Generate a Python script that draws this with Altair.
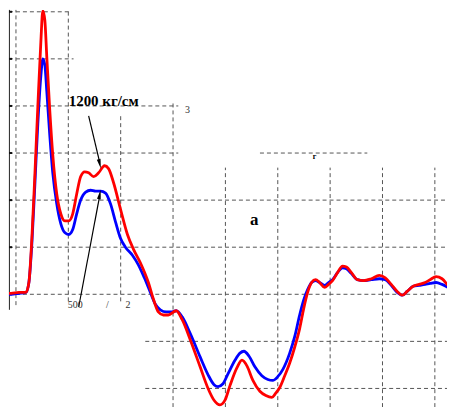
import altair as alt
import pandas as pd

# ---- curve data (x: grid cells from first vertical grid line, y: grid cells from baseline) ----
red_x = [-0.228, -0.095, 0.057, 0.19, 0.247, 0.304, 0.361, 0.418, 0.475, 0.513, 0.551, 0.589, 0.646,
         0.703, 0.779, 0.856, 0.932, 1.008, 1.084, 1.16, 1.236, 1.312, 1.388, 1.483, 1.578, 1.692,
         1.768, 1.863, 1.996, 2.129, 2.243, 2.376, 2.529, 2.624, 2.719, 2.814, 2.909, 3.061, 3.175,
         3.327, 3.517, 3.669, 3.783, 3.897, 3.992, 4.087, 4.221, 4.316, 4.411, 4.525, 4.658, 4.772,
         4.886, 4.962, 5.038, 5.133, 5.228, 5.323, 5.418, 5.494, 5.57, 5.646, 5.722, 5.798, 5.894,
         5.97, 6.046, 6.141, 6.236, 6.312, 6.407, 6.521, 6.635, 6.787, 6.939, 7.053, 7.167, 7.281,
         7.376, 7.471, 7.586, 7.7, 7.814, 7.909, 8.023, 8.137, 8.251, 8.365]
red_y = [0.02, 0.02, 0.04, 0.04, 0.25, 1.19, 2.54, 4.0, 5.35, 6.02, 5.83, 5.04, 3.9,
         2.96, 2.13, 1.71, 1.56, 1.56, 1.71, 2.13, 2.5, 2.6, 2.58, 2.5, 2.58, 2.73,
         2.67, 2.375, 1.81, 1.27, 0.96, 0.67, 0.25, -0.1, -0.375, -0.44, -0.44, -0.35, -0.54,
         -0.96, -1.54, -2.0, -2.25, -2.35, -2.25, -1.94, -1.56, -1.4, -1.52, -1.83, -2.06, -2.15,
         -2.19, -2.1, -1.98, -1.73, -1.46, -1.125, -0.73, -0.31, 0.04, 0.25, 0.31, 0.25, 0.146,
         0.21, 0.29, 0.46, 0.6, 0.58, 0.46, 0.31, 0.29, 0.33, 0.4, 0.35, 0.21, 0.06,
         -0.02, 0.06, 0.17, 0.21, 0.25, 0.31, 0.375, 0.33, 0.19, 0.06]

blue_x = [-0.228, -0.095, 0.057, 0.19, 0.247, 0.304, 0.361, 0.418, 0.475, 0.513, 0.551, 0.589, 0.646,
          0.703, 0.779, 0.856, 0.932, 1.008, 1.084, 1.16, 1.236, 1.331, 1.426, 1.521, 1.616, 1.711,
          1.806, 1.901, 1.996, 2.091, 2.224, 2.338, 2.452, 2.567, 2.662, 2.757, 2.871, 2.966, 3.061,
          3.175, 3.327, 3.517, 3.669, 3.783, 3.859, 3.954, 4.049, 4.183, 4.278, 4.354, 4.449, 4.563,
          4.696, 4.81, 4.905, 5.0, 5.095, 5.228, 5.323, 5.418, 5.494, 5.57, 5.646, 5.722, 5.798,
          5.894, 5.97, 6.046, 6.141, 6.236, 6.312, 6.407, 6.521, 6.635, 6.787, 6.939, 7.053, 7.167,
          7.281, 7.376, 7.471, 7.586, 7.7, 7.814, 7.909, 8.023, 8.137, 8.251, 8.365]
blue_y = [0.0, 0.0, 0.02, 0.04, 0.25, 1.08, 2.33, 3.63, 4.63, 5.0, 4.875, 4.31, 3.375,
          2.58, 1.92, 1.5, 1.31, 1.27, 1.375, 1.71, 2.0, 2.17, 2.21, 2.19, 2.19, 2.15,
          1.92, 1.54, 1.19, 1.0, 0.83, 0.625, 0.35, 0.04, -0.21, -0.33, -0.375, -0.375, -0.35,
          -0.48, -0.83, -1.33, -1.71, -1.92, -1.96, -1.9, -1.69, -1.4, -1.25, -1.21, -1.31, -1.54,
          -1.73, -1.81, -1.83, -1.75, -1.6, -1.25, -0.9, -0.44, -0.125, 0.1, 0.25, 0.29, 0.25,
          0.19, 0.25, 0.31, 0.46, 0.56, 0.54, 0.44, 0.31, 0.29, 0.31, 0.33, 0.31, 0.19,
          0.04, -0.02, 0.06, 0.17, 0.19, 0.21, 0.23, 0.25, 0.21, 0.146, 0.06]

# ---- dashed grid segments ----
hgrid_y = [6, 5, 4, 3, 3, 2, 1, 0, -1, -2]
hgrid_x1 = [-0.133, -0.133, -0.133, -0.133, 4.66, -0.133, -0.133, -0.133, 2.47, 2.47]
hgrid_x2 = [1.05, 1.1, 3.1, 3.1, 6.71, 8.232, 8.232, 8.232, 8.232, 8.232]
vgrid_x = [0, 1, 2, 3, 4, 5, 6, 7, 8]
vgrid_y1 = [-0.23, -0.15, -0.15, -2.396, -2.396, -2.396, -2.396, -2.396, -2.396]
vgrid_y2 = [6.04, 6.04, 3.83, 4.1, 2.69, 2.69, 2.69, 2.69, 2.69]

# ---- left axis ----
axis_x = [-0.125]
axis_y1 = [-0.33]
axis_y2 = [6.04]
tick_y = [6, 5, 4, 3, 2, 1, 0]

# ---- annotations ----
bold_text = ["1200 кг/см", "а", "г"]
bold_x = [1.008, 4.47, 5.67]
bold_y = [4.0, 1.48, 2.88]
bold_size = [15, 17, 8]

small_text = ["3", "2", "500", "/"]
small_x = [3.23, 2.09, 0.99, 1.72]
small_y = [3.85, -0.29, -0.3, -0.3]

arrow_x1 = [1.388, 1.198]
arrow_y1 = [3.79, -0.27]
arrow_x2 = [1.597, 1.597]
arrow_y2 = [2.81, 2.08]
head_x = [1.6, 1.6]
head_y = [2.77, 2.12]
head_angle = [167, 11]

XD = [-0.133, 8.232]
YD = [-2.396, 6.04]
xs = alt.Scale(domain=XD, nice=False, zero=False)
ys = alt.Scale(domain=YD, nice=False, zero=False)

red_df = pd.DataFrame({"x": red_x, "y": red_y})
blue_df = pd.DataFrame({"x": blue_x, "y": blue_y})
hg = pd.DataFrame({"y": hgrid_y, "x1": hgrid_x1, "x2": hgrid_x2})
vg = pd.DataFrame({"x": vgrid_x, "y1": vgrid_y1, "y2": vgrid_y2})
ax_df = pd.DataFrame({"x": axis_x, "y1": axis_y1, "y2": axis_y2})
tk_df = pd.DataFrame({"y": tick_y, "x1": [-0.133] * len(tick_y), "x2": [-0.075] * len(tick_y)})
bt = pd.DataFrame({"t": bold_text, "x": bold_x, "y": bold_y, "s": bold_size})
st = pd.DataFrame({"t": small_text, "x": small_x, "y": small_y})
ar = pd.DataFrame({"x1": arrow_x1, "y1": arrow_y1, "x2": arrow_x2, "y2": arrow_y2})
hd = pd.DataFrame({"x": head_x, "y": head_y, "a": head_angle})

grid_color = "#555555"
hgrid = alt.Chart(hg).mark_rule(color=grid_color, strokeDash=[4, 3], strokeWidth=1).encode(
    x=alt.X("x1:Q", scale=xs, axis=None), x2="x2:Q", y=alt.Y("y:Q", scale=ys, axis=None))
vgrid = alt.Chart(vg).mark_rule(color=grid_color, strokeDash=[4, 3], strokeWidth=1).encode(
    x=alt.X("x:Q", scale=xs, axis=None), y=alt.Y("y1:Q", scale=ys, axis=None), y2="y2:Q")
axis_line = alt.Chart(ax_df).mark_rule(color="#222222", strokeWidth=1).encode(
    x=alt.X("x:Q", scale=xs, axis=None), y=alt.Y("y1:Q", scale=ys, axis=None), y2="y2:Q")
ticks = alt.Chart(tk_df).mark_rule(color="#111111", strokeWidth=2).encode(
    x=alt.X("x1:Q", scale=xs, axis=None), x2="x2:Q", y=alt.Y("y:Q", scale=ys, axis=None))

blue_line = alt.Chart(blue_df).mark_line(color="#0000ff", strokeWidth=2.8, interpolate="monotone",
                                         clip=True).encode(
    x=alt.X("x:Q", scale=xs, axis=None), y=alt.Y("y:Q", scale=ys, axis=None))
red_line = alt.Chart(red_df).mark_line(color="#ff0000", strokeWidth=2.8, interpolate="monotone",
                                       clip=True).encode(
    x=alt.X("x:Q", scale=xs, axis=None), y=alt.Y("y:Q", scale=ys, axis=None))

arrows = alt.Chart(ar).mark_rule(color="black", strokeWidth=1.2).encode(
    x=alt.X("x1:Q", scale=xs, axis=None), y=alt.Y("y1:Q", scale=ys, axis=None), x2="x2:Q", y2="y2:Q")
heads = alt.Chart(hd).mark_point(shape="M0,-1L0.4,1L-0.4,1Z", filled=True, color="black",
                                 opacity=1, size=90).encode(
    x=alt.X("x:Q", scale=xs, axis=None), y=alt.Y("y:Q", scale=ys, axis=None),
    angle=alt.Angle("a:Q", scale=None))

bold_labels = alt.Chart(bt).mark_text(font="Liberation Serif", fontWeight="bold", color="black",
                                      align="left", baseline="alphabetic").encode(
    x=alt.X("x:Q", scale=xs, axis=None), y=alt.Y("y:Q", scale=ys, axis=None),
    text="t:N", size=alt.Size("s:Q", scale=None))
small_labels = alt.Chart(st).mark_text(font="Liberation Serif", fontSize=10, color="#333333",
                                       align="left", baseline="alphabetic").encode(
    x=alt.X("x:Q", scale=xs, axis=None), y=alt.Y("y:Q", scale=ys, axis=None), text="t:N")

chart = alt.layer(hgrid, vgrid, axis_line, ticks, blue_line, red_line, arrows, heads,
                  bold_labels, small_labels).properties(
    width=440, height=399, padding=0
).configure_view(stroke=None)

chart.save("out.html", embed_options={"renderer": "svg", "actions": False})
